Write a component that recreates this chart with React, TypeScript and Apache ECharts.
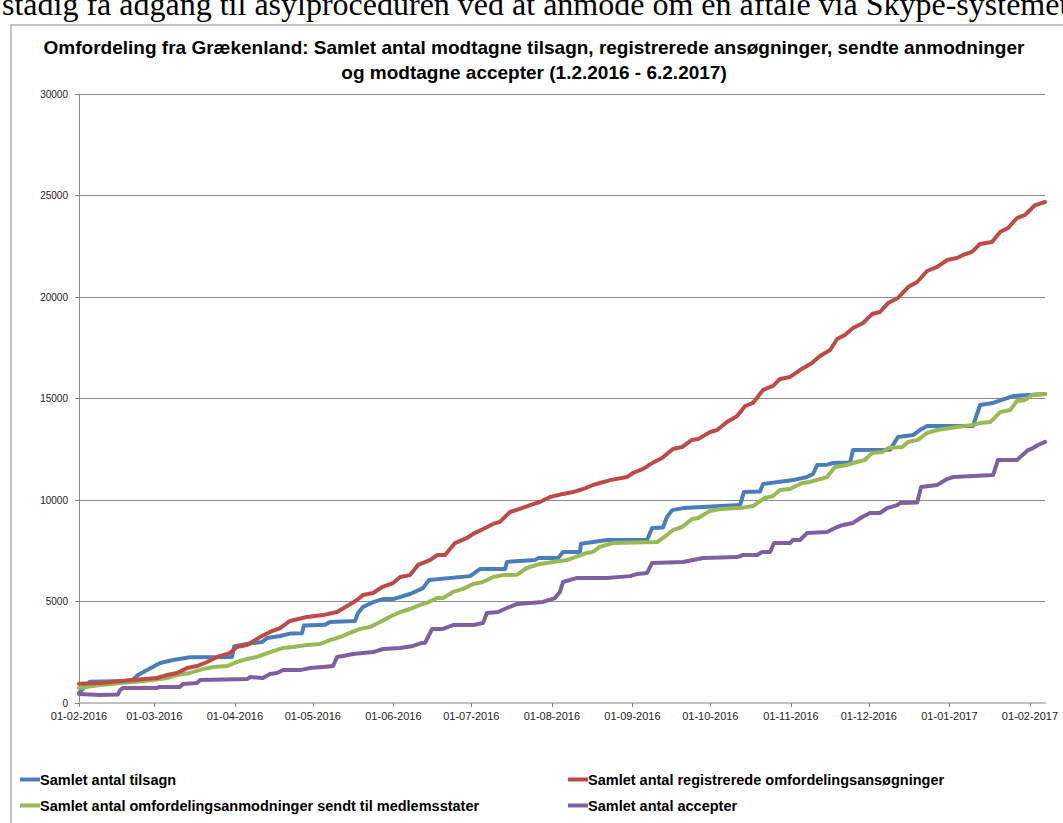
import React, { useEffect, useRef } from "react";
import * as echarts from "echarts";

// x = days since 1 Feb 2016, y = cumulative count
const START_UTC = Date.UTC(2016, 1, 1);
const AXIS_MAX_DAY = 371.8; // 6 Feb 2017
const monthStartDays = [0, 29, 60, 90, 121, 151, 182, 213, 243, 274, 304, 335, 366];

const seriesNames = [
  "Samlet antal tilsagn",
  "Samlet antal registrerede omfordelingsansøgninger",
  "Samlet antal omfordelingsanmodninger sendt til medlemsstater",
  "Samlet antal accepter",
];

const tilsagn: [number, number][] = [
  [0, 500], [4.2, 1050], [17.7, 1080], [20.8, 1150], [22.7, 1380], [31.2, 1970], [36.2, 2120], [42.7, 2250],
  [58.9, 2270], [59.7, 2780], [63.9, 2900], [70.4, 3000], [72.4, 3200], [77.4, 3300], [81.2, 3420], [85.8, 3440],
  [86.6, 3820], [94.7, 3850], [96.6, 3990], [106.2, 4040], [107.4, 4430], [109.3, 4730], [113.2, 4970], [117, 5120],
  [120.9, 5120], [127.4, 5370], [132.4, 5660], [134.7, 6060], [150.5, 6250], [154.3, 6600], [164, 6600], [164.7, 6950],
  [175.5, 7040], [176.7, 7140], [184.4, 7140], [186.3, 7440], [192.8, 7440], [193.2, 7850], [203.2, 8030], [218.6, 8030],
  [220.6, 8620], [224.8, 8650], [226.3, 9160], [228.3, 9500], [232.5, 9600], [254.4, 9750], [255.9, 10390], [262.1, 10420],
  [263.3, 10790], [274.8, 10980], [280.2, 11130], [282.5, 11280], [284.1, 11720], [287.9, 11740], [290.2, 11820], [296.8, 11850],
  [297.9, 12460], [312.2, 12480], [315.2, 13100], [321, 13200], [323.7, 13450], [326.4, 13650], [344.1, 13650], [346.8, 14680],
  [351.8, 14780], [357.2, 15020], [359.5, 15120], [371.8, 15220],
];

const registrerede: [number, number][] = [
  [0, 950], [8.1, 990], [20.8, 1130], [30, 1230], [33.9, 1380], [37.7, 1480], [41.6, 1720], [45.4, 1820],
  [49.3, 2020], [53.1, 2270], [58.1, 2460], [60.8, 2760], [64.7, 2860], [69.7, 3250], [73.5, 3500], [77.4, 3690],
  [81.2, 4040], [87.8, 4240], [93.9, 4330], [99.3, 4480], [103.2, 4780], [107, 5070], [109.3, 5320], [113.2, 5420],
  [116.6, 5710], [120.9, 5910], [123.6, 6210], [127.4, 6300], [130.5, 6800], [135.1, 7040], [137.8, 7290], [140.9, 7290],
  [144.7, 7880], [149.3, 8130], [151.7, 8330], [155.5, 8570], [159.4, 8820], [162, 8920], [165.9, 9410], [169.7, 9560],
  [173.6, 9750], [177.4, 9900], [181.3, 10150], [186.3, 10300], [190.1, 10390], [194, 10540], [197.8, 10740], [204.4, 10980],
  [210.9, 11130], [213.2, 11330], [217.1, 11530], [220.6, 11820], [224.4, 12070], [228.6, 12510], [232.1, 12610], [235.9, 12960],
  [238.3, 13000], [242.9, 13350], [245.6, 13450], [249.4, 13840], [253.3, 14140], [256.4, 14630], [259.4, 14780], [263.3, 15420],
  [267.1, 15620], [269.8, 15960], [273.7, 16060], [277.5, 16400], [282.1, 16750], [285.2, 17090], [289.1, 17390], [291.8, 17930],
  [294.8, 18130], [297.9, 18470], [301.8, 18720], [305.2, 19160], [308.3, 19260], [311.4, 19700], [315.2, 19950], [319.1, 20490],
  [322.6, 20740], [326.4, 21280], [330.3, 21480], [334.1, 21820], [337.9, 21920], [340.3, 22070], [343.7, 22220], [346.8, 22610],
  [351.4, 22710], [354.5, 23200], [357.6, 23400], [361, 23890], [364.1, 24040], [368, 24530], [371.8, 24680],
];

const anmodninger: [number, number][] = [
  [0, 740], [8.1, 890], [20.8, 1030], [28.5, 1130], [33.9, 1230], [37.7, 1380], [42.7, 1480], [47.7, 1670],
  [51.6, 1770], [57, 1820], [60.8, 2020], [64.7, 2170], [68.5, 2270], [73.5, 2510], [78.5, 2710], [82.4, 2760],
  [87.8, 2860], [92.8, 2910], [96.6, 3100], [100.5, 3250], [104.3, 3450], [108.2, 3650], [112, 3740], [115.9, 3990],
  [119.7, 4250], [123.6, 4480], [127.4, 4630], [131.3, 4830], [133.9, 4930], [137.8, 5170], [140.1, 5170], [144, 5470],
  [147.8, 5620], [151.7, 5860], [155.5, 5960], [159.4, 6210], [163.2, 6300], [168.6, 6320], [172.4, 6650], [177.4, 6850],
  [182.4, 6950], [187.8, 7040], [195.5, 7390], [197.8, 7440], [200.5, 7690], [205.5, 7880], [222.5, 7930], [224.8, 8130],
  [228.6, 8520], [232.1, 8670], [235.9, 9060], [238.3, 9110], [242.9, 9460], [246.7, 9560], [254.4, 9600], [259.4, 9700],
  [264, 10100], [267.1, 10200], [269.8, 10490], [273.7, 10540], [278.3, 10840], [281.4, 10890], [285.2, 11030], [287.9, 11130],
  [291, 11630], [295.6, 11720], [297.9, 11820], [302.5, 11970], [305.2, 12310], [309.1, 12360], [311.4, 12560], [316.8, 12610],
  [319.1, 12860], [322.9, 12960], [326.4, 13300], [330.3, 13450], [337.9, 13600], [344.1, 13700], [346.8, 13790], [350.7, 13840],
  [354.5, 14330], [358.4, 14430], [361, 14880], [364.1, 14930], [366.8, 15170], [371.8, 15220],
];

const accepter: [number, number][] = [
  [0, 440], [8.1, 390], [15, 420], [15.8, 640], [16.9, 740], [30, 740], [31.2, 790], [38.9, 790],
  [40, 940], [45.4, 990], [46.6, 1130], [64.7, 1180], [65.8, 1280], [70.8, 1230], [73.5, 1430], [76.2, 1480],
  [78.5, 1620], [85.1, 1620], [88.9, 1720], [93.9, 1770], [97.8, 1820], [99.3, 2270], [101.6, 2320], [105.5, 2410],
  [109.3, 2460], [113.2, 2510], [117, 2660], [123.6, 2710], [128.6, 2810], [132, 2960], [133.2, 2960], [135.9, 3650],
  [140.1, 3650], [144, 3840], [151.7, 3840], [155.5, 3940], [157, 4430], [161.3, 4480], [164.7, 4680], [168.6, 4880],
  [173.6, 4930], [178.6, 4980], [183.2, 5170], [185.1, 5470], [186.3, 5960], [191.7, 6160], [203.2, 6160], [212.1, 6250],
  [214.8, 6350], [218.6, 6400], [220.6, 6900], [232.5, 6950], [240.2, 7140], [253.3, 7190], [255.6, 7290], [261, 7290],
  [262.9, 7440], [266, 7440], [267.5, 7880], [273.7, 7880], [274.8, 8030], [277.5, 8030], [280.2, 8370], [287.9, 8420],
  [291.8, 8670], [294.1, 8770], [297.9, 8870], [301.4, 9160], [304.5, 9360], [308.3, 9360], [311, 9600], [314.9, 9750],
  [316, 9850], [322.6, 9880], [324.1, 10640], [330.3, 10740], [334.1, 11030], [336.4, 11130], [344.1, 11180], [351.8, 11230],
  [353.7, 11970], [361, 11970], [365.3, 12460], [367.2, 12560], [369.1, 12710], [371.8, 12860],
];

const seriesData = [tilsagn, registrerede, anmodninger, accepter];
const colors = ["#4A7EBB", "#BE4B48", "#98B954", "#7D60A0"];

const titleLines = [
  "Omfordeling fra Grækenland: Samlet antal modtagne tilsagn, registrerede ansøgninger, sendte anmodninger",
  "og modtagne accepter (1.2.2016 - 6.2.2017)",
];
const topLine = "stadig få adgang til asylproceduren ved at anmode om en aftale via Skype-systemet";

function fmtDay(v: number): string {
  const d = new Date(START_UTC + Math.round(v) * 86400000);
  const dd = String(d.getUTCDate()).padStart(2, "0");
  const mm = String(d.getUTCMonth() + 1).padStart(2, "0");
  return `${dd}-${mm}-${d.getUTCFullYear()}`;
}

export default function App() {
  const ref = useRef<HTMLDivElement>(null);
  useEffect(() => {
    if (!ref.current) return;
    const chart = echarts.init(ref.current, null, { renderer: "svg" });
    const font = "'Liberation Sans', Arial, sans-serif";
    const titleStyle = {
      fontFamily: font,
      fontWeight: "bold",
      fontSize: 19,
      fill: "#000",
      textAlign: "center",
      textVerticalAlign: "middle",
    };
    const legendText = {
      fontFamily: font,
      fontWeight: "bold",
      fontSize: 14.5,
      color: "#000",
      padding: [0, 0, 0, -5],
    };
    chart.setOption({
      animation: false,
      color: colors,
      graphic: [
        {
          type: "rect",
          shape: { x: 11, y: 25, width: 1100, height: 850 },
          style: { fill: "none", stroke: "#8a8a8a", lineWidth: 1 },
          silent: true,
        },
        { type: "text", x: 534, y: 47, style: { ...titleStyle, text: titleLines[0] }, silent: true },
        { type: "text", x: 534, y: 72, style: { ...titleStyle, text: titleLines[1] }, silent: true },
      ],
      grid: { left: 79, right: 18, top: 94, bottom: 120, containLabel: false },
      xAxis: {
        type: "value",
        min: 0,
        max: AXIS_MAX_DAY,
        splitLine: { show: false },
        axisLine: { show: true, lineStyle: { color: "#c0c0c0", width: 2 } },
        axisTick: {
          show: true,
          length: 4,
          customValues: monthStartDays,
          lineStyle: { color: "#8a8a8a", width: 1 },
        },
        axisLabel: {
          customValues: monthStartDays,
          formatter: (v: number) => fmtDay(v),
          fontFamily: font,
          fontSize: 11,
          color: "#222",
          margin: 7,
        },
      },
      yAxis: {
        type: "value",
        min: 0,
        max: 30000,
        interval: 5000,
        axisLine: { show: true, lineStyle: { color: "#8a8a8a", width: 1 } },
        axisTick: { show: true, length: 4, lineStyle: { color: "#8a8a8a" } },
        splitLine: { show: true, lineStyle: { color: "#8a8a8a", width: 1 } },
        axisLabel: {
          formatter: (v: number) => String(v),
          fontFamily: font,
          fontSize: 10,
          color: "#222",
          margin: 11,
        },
      },
      legend: [
        {
          data: [seriesNames[0], seriesNames[2]],
          orient: "vertical",
          left: 15,
          top: 767,
          itemGap: 11,
          itemWidth: 20,
          itemHeight: 4,
          icon: "rect",
          textStyle: legendText,
        },
        {
          data: [seriesNames[1], seriesNames[3]],
          orient: "vertical",
          left: 563,
          top: 767,
          itemGap: 11,
          itemWidth: 20,
          itemHeight: 4,
          icon: "rect",
          textStyle: legendText,
        },
      ],
      series: seriesData.map((d, i) => ({
        name: seriesNames[i],
        type: "line",
        data: d,
        showSymbol: false,
        symbol: "none",
        lineStyle: { width: 4, color: colors[i], join: "round", cap: "round" },
        itemStyle: { color: colors[i] },
        z: i === 1 ? 3 : 2,
      })),
    });
    return () => chart.dispose();
  }, []);

  return (
    <div style={{ position: "absolute", left: 0, top: 0, width: 1063, height: 823, overflow: "hidden", background: "#fff" }}>
      <div
        style={{
          position: "absolute",
          left: 2,
          top: -14,
          whiteSpace: "nowrap",
          fontFamily: "'Liberation Serif', 'Times New Roman', serif",
          fontSize: 32,
          color: "#000",
        }}
      >
        {topLine}
      </div>
      <div ref={ref} style={{ position: "absolute", left: 0, top: 0, width: 1063, height: 823 }} />
    </div>
  );
}
